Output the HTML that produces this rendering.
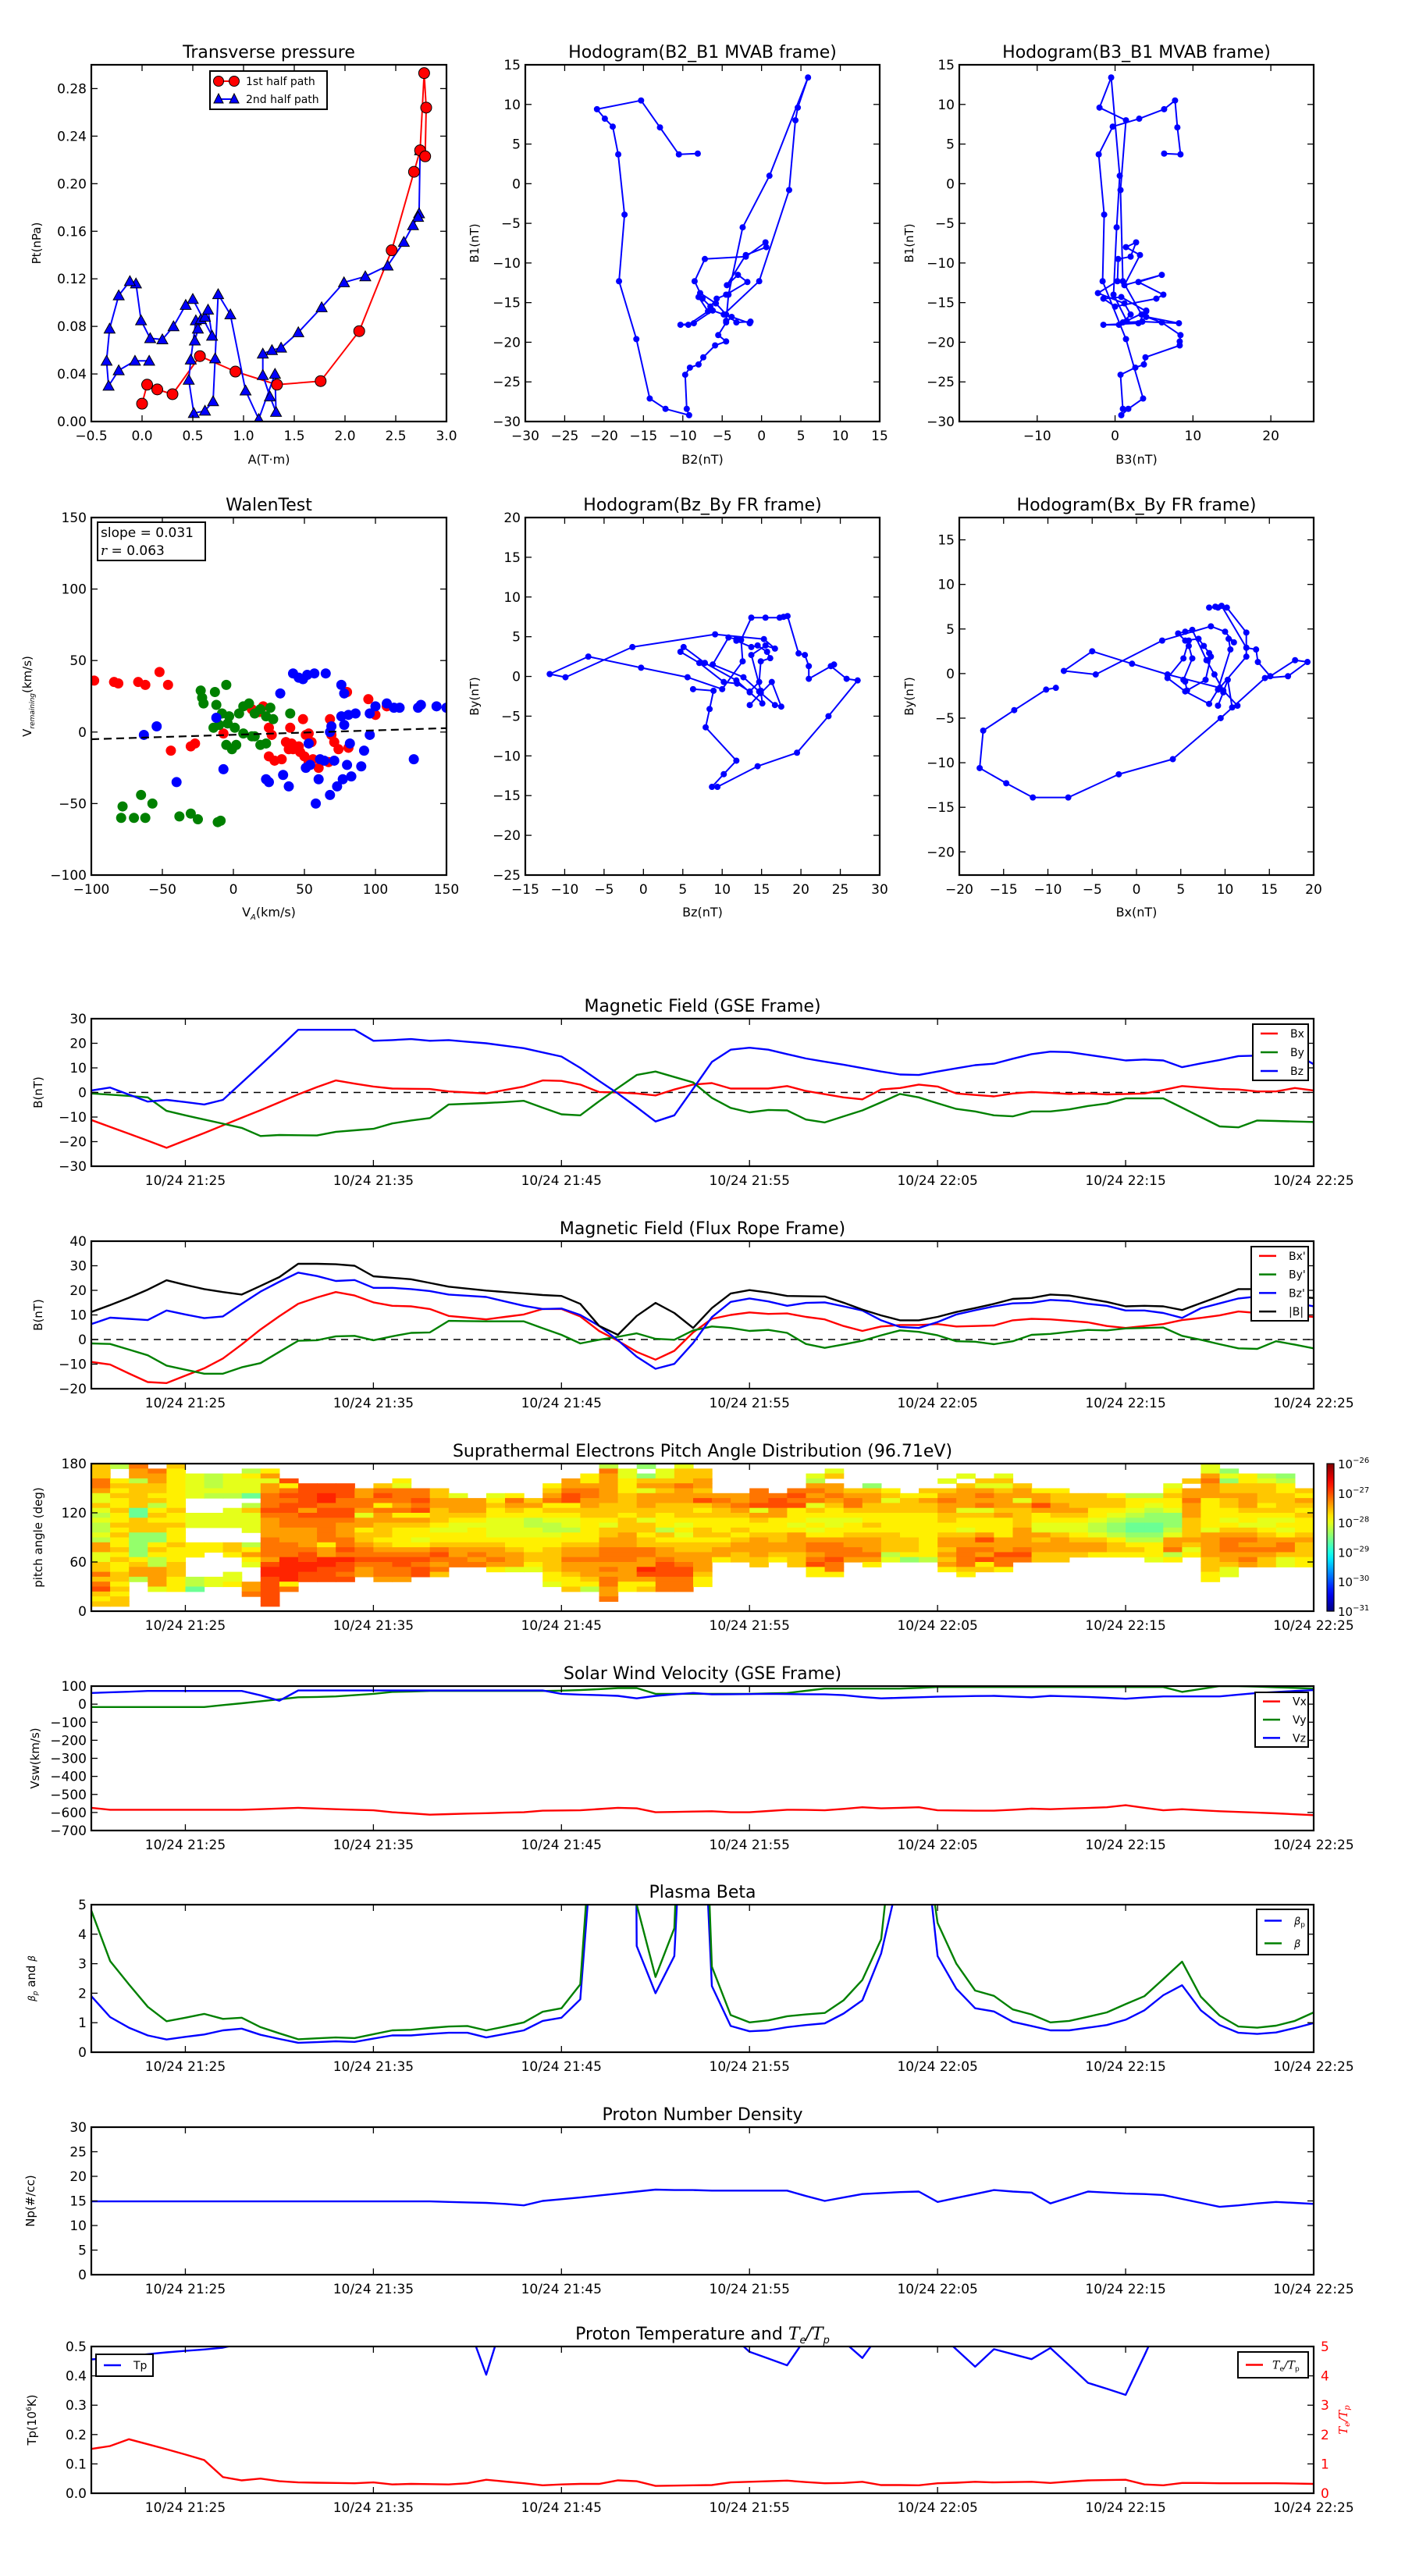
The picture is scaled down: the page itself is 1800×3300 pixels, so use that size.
<!DOCTYPE html>
<html><head><meta charset="utf-8"><title>Flux rope analysis</title>
<style>
html,body{margin:0;padding:0;background:#fff;}
svg{display:block;font-family:"DejaVu Sans","Liberation Sans",sans-serif;}
</style></head>
<body>
<svg id="fig" xmlns="http://www.w3.org/2000/svg" width="1800" height="3300" viewBox="0 0 1800 3300">
<rect x="0" y="0" width="1800" height="3300" fill="#fff"/>
<defs id="defs"></defs>
</svg>
<script>
// ---------------- DATA ----------------
// Transverse pressure
const ptFirstA = [0.0,0.05,0.15,0.30,0.57,0.92,1.33,1.76,2.14,2.46,2.68,2.74,2.78,2.80,2.79];
const ptFirstP = [0.015,0.031,0.027,0.023,0.055,0.042,0.031,0.034,0.076,0.144,0.21,0.228,0.293,0.264,0.223];
const ptSecondA = [2.74,2.73,2.72,2.67,2.58,2.42,2.2,1.99,1.77,1.54,1.37,1.28,1.19,1.19,1.26,1.32,1.31,1.15,1.02,0.87,0.75,0.72,0.70,0.62,0.51,0.46,0.48,0.53,0.55,0.52,0.58,0.62,0.65,0.69,0.50,0.43,0.31,0.20,0.08,-0.01,-0.06,-0.12,-0.23,-0.32,-0.35,-0.33,-0.23,-0.07,0.07];
const ptSecondP = [0.228,0.175,0.172,0.165,0.151,0.131,0.122,0.117,0.096,0.075,0.062,0.060,0.057,0.039,0.021,0.008,0.040,0.002,0.026,0.090,0.107,0.053,0.017,0.009,0.007,0.035,0.052,0.085,0.078,0.068,0.086,0.088,0.094,0.072,0.103,0.098,0.080,0.069,0.070,0.085,0.116,0.118,0.106,0.078,0.051,0.030,0.043,0.051,0.051];
// MVAB hodograms
const mvB1 = [3.8,3.7,7.1,10.5,9.4,8.2,7.2,3.7,-3.9,-12.3,-19.6,-27.1,-28.4,-29.2,-28.4,-24.1,-23.2,-22.8,-21.9,-20.4,-19.9,-19.1,-17.5,-16.8,-17.6,-17.4,-17.5,-16.5,-15.1,-13.8,-12.3,-9.5,-9.2,-7.4,-8.0,-9.0,-12.8,-11.5,-12.4,-14.0,-14.5,-15.5,-14.5,-14.3,-16.1,-17.8,-17.8,-17.6,-16.0,-16.5,-12.3,-0.8,8.0,9.6,13.4,1.0,-5.5,-14.0,-17.3];
const mvB2 = [-8.1,-10.5,-12.9,-15.3,-20.9,-19.9,-18.9,-18.2,-17.4,-18.1,-15.9,-14.2,-12.2,-9.2,-9.5,-9.7,-9.1,-8.0,-7.4,-5.9,-4.5,-5.5,-4.5,-3.8,-1.5,-1.4,-3.2,-4.5,-5.8,-7.8,-8.5,-7.2,-2.0,0.5,0.6,-2.0,-4.4,-3.0,-1.8,-4.5,-5.7,-6.5,-7.5,-8.0,-6.8,-9.3,-10.3,-8.6,-6.2,-4.8,-0.3,3.5,4.3,4.6,5.9,1.0,-2.4,-4.2,-4.5];
const mvB3 = [6.3,8.4,8.0,7.7,6.3,3.1,-0.3,-2.1,-1.4,-1.6,1.4,3.6,1.7,0.8,1.0,0.7,2.6,3.7,3.9,8.3,8.3,8.4,6.0,4.0,8.2,3.5,1.0,2.0,1.2,-2.2,0.3,0.4,2.0,2.7,1.4,3.2,1.2,6.0,3.0,6.2,5.3,0.0,-1.5,0.8,4.0,0.5,-1.5,3.0,4.0,3.4,1.0,0.7,1.4,-2.0,-0.5,0.6,0.2,-0.2,1.5];
// Walen test
const walenRedVA = [-98,-84,-81,-67,-62,-52,-46,-44,-30,-27,-7,13,18,21,25,27,25,29,34,37,40,41,42,46,49,51,53,50,53,56,60,55,47,39,68,69,71,74,80,81,95,100,108,67];
const walenRedV = [36,35,34,35,33,42,33,-13,-10,-8,-1,16,14,18,3,-2,-17,-20,-19,-7,3,-8,-12,-10,9,-2,-1,-17,-21,-19,-25,-7,-14,-12,9,-2,-7,-12,28,-11,23,12,18,-21];
const walenGreenVA = [-23,-22,-21,-13,-12,-5,-10,-8,-3,1,4,7,11,15,19,23,26,28,7,15,19,23,-1,-5,2,40,-78,-79,-70,-65,-62,-57,-38,-30,-25,-11,-9,13,-4,-14];
const walenGreenV = [29,24,20,28,19,33,5,13,11,3,13,18,20,13,16,11,17,9,-1,-3,-9,-8,-12,-9,-9,13,-52,-60,-60,-44,-60,-50,-59,-57,-61,-63,-62,-3,6,3];
const walenBlueVA = [-63,-54,-40,-7,-12,23,25,35,39,42,46,49,52,57,65,33,76,78,53,54,51,60,58,61,64,68,69,68,71,73,77,80,83,90,82,78,76,81,86,92,96,96,100,108,113,117,130,132,143,150,127];
const walenBlueV = [-2,4,-35,-26,10,-33,-35,-30,-38,41,38,37,40,41,41,27,33,27,-8,-23,-25,-33,-50,-19,-20,0,4,-44,-20,-38,-33,-23,-31,-24,-8,5,11,12,13,-13,-2,13,18,20,17,17,17,19,18,17,-19];
const walenSlope = 0.031;
const walenIntercept = -1.9;
const walenR = 0.063;
// Time series (minutes after 10/24 21:20, 1-min cadence)
const minutes = Array.from({length:66},(_,i)=>i);
const gseBx = [-11.2,-14,-16.8,-19.6,-22.5,-19.5,-16.5,-13.4,-10.3,-7.2,-4,-0.8,2.2,4.9,3.6,2.4,1.6,1.5,1.4,0.4,0,-0.4,1,2.4,4.9,4.7,3.2,0.2,0,-0.4,-1.2,1.2,3.2,3.8,1.6,1.6,1.6,2.6,0.6,-0.7,-2,-2.8,1.2,1.8,3.2,2.4,-0.4,-1,-1.6,-0.4,0.2,-0.2,-0.6,-0.4,-0.8,-0.6,-0.4,1,2.6,2,1.4,1.2,0.4,0.4,1.8,0.8];
const gseBy = [-0.4,-0.9,-1.4,-2,-7.5,-9.3,-11,-12.7,-14.4,-17.7,-17.3,-17.4,-17.5,-16,-15.4,-14.8,-12.6,-11.4,-10.4,-4.9,-4.6,-4.3,-3.9,-3.4,-6.2,-8.9,-9.3,-3.6,1.8,7.1,8.5,6.3,4.1,-2.2,-6.3,-8.1,-7.1,-7.3,-11,-12.2,-9.7,-7.3,-4,-0.6,-2,-4.4,-6.7,-7.7,-9.3,-9.7,-7.7,-7.7,-6.9,-5.5,-4.5,-2.4,-2.4,-2.4,-6.2,-10,-13.8,-14.2,-11.4,-11.6,-11.8,-12];
const gseBz = [0.8,2,-0.9,-3.7,-3,-3.9,-4.9,-3,4,11,18.2,25.5,25.5,25.5,25.5,21,21.3,21.7,21,21.3,20.6,20,19,18,16.3,14.6,10,4.7,-0.4,-6,-11.8,-9.3,1.5,12.4,17.4,18.2,17.4,15.6,13.8,12.5,11.3,9.9,8.5,7.3,7.1,8.5,9.8,11.1,11.7,13.7,15.6,16.6,16.4,15.3,14.2,13,13.4,13,10.3,11.8,13.2,14.8,15,16.2,15.8,11.5];
const frBx = [-9.1,-10.2,-13.8,-17.3,-17.7,-14.7,-11.7,-7.7,-2.0,4.1,9.5,14.5,17.1,19.3,17.9,15.1,13.7,13.5,12.4,9.6,8.9,8.2,9.2,10.2,12.4,12.4,9.4,3.5,-0.5,-5.0,-8.2,-4.6,2.9,8.4,10.0,11.0,10.4,10.6,9.2,8.2,5.5,3.5,5.3,5.9,5.9,6.3,5.3,5.5,5.7,7.8,8.4,8.2,7.6,7.0,5.5,4.7,5.5,6.3,7.9,8.8,9.8,11.4,10.8,10.3,9.8,9.2];
const frBy = [-1.6,-1.8,-4.1,-6.4,-10.6,-12.3,-13.9,-13.9,-11.3,-9.6,-5.0,-0.5,-0.3,1.3,1.5,-0.3,1.3,2.7,2.9,7.6,7.5,7.4,7.4,7.4,4.6,1.9,-1.6,-0.1,1.1,2.5,0.3,-0.1,3.7,5.3,4.7,3.5,3.9,2.7,-1.8,-3.4,-2.0,-0.5,1.7,3.7,3.1,1.7,-0.7,-0.9,-1.9,-0.7,1.9,2.3,3.1,3.9,3.7,4.5,4.7,4.9,1.5,-0.1,-1.9,-3.6,-3.8,-0.7,-2.1,-3.6];
const frBz = [6.3,8.9,8.4,7.9,11.8,10.2,8.7,9.4,14.5,19.5,23.5,27.2,25.8,23.8,24.2,21.0,21.0,20.5,19.7,18.3,17.8,17.3,15.5,13.7,12.4,12.6,10.0,5.6,-0.3,-7.0,-11.9,-9.9,-1.4,9.1,15.3,16.7,15.5,13.7,14.9,15.1,13.5,11.8,7.8,5.1,4.7,7.1,10.2,11.9,13.5,14.7,14.9,16.1,15.7,14.5,13.7,11.8,11.8,10.8,8.8,12.7,14.7,16.7,17.5,16.3,14.9,13.5];
const frBt = [11.2,14,17,20.3,24.1,22.2,20.5,19.3,18.3,21.8,25.4,30.8,30.8,30.6,30,25.7,25.1,24.5,23,21.5,20.7,19.9,19.3,18.7,18.1,17.7,14.5,5.6,1.9,9.6,14.9,10.8,4.7,12.8,18.7,20.1,19.1,17.7,17.6,17.5,15,12.2,9.8,7.8,7.8,9.2,11.2,12.8,14.5,16.5,16.9,18.3,17.9,16.6,15.3,13.5,13.7,13.5,12,14.8,17.6,20.5,20.5,17.9,17.4,16.9];
// PAD: one string per minute column, rows from 180 deg down to 0 deg (6 deg bins); digit = level, '.' = no data
const padCols = [
"55577633532322326633557578545.","2..45454454454544545445545455.","766255555005551111145662......",".7665545245455114542266663....",
"54444444454454445444555444....","..33333...333...444....220....","..22232...333...44.....33.....","..33332..3333...554...334.....",
".243330.253333..24643...667...",".4636677787666677776899888888.","...84787887776667779999947....","....88888687766667889988......",
"....88997887777746699888......","....88877887666778798878......",".....667763664556778766.......","....57874766555456787776......",
"...437776746544446788776......",".....778784654434678788.......",".....556655543445787675.......","......366654334456677.........",
".......66654344456767.........","......3454433334566764........","......4765433334456663........",".......564422334445543........",
"....456745432234455555443.....","...66788454332445667665445....","..446776655444445667666542....","2766666655543556677767677667..",
".3344455554555666777666644....","1.156366655355455776698645....",".3356566554442545667888777....","35557666555434345566788777....",
".556656854544554556666544.....","......67655444545664..........","......66765445456655..........",".....7778365445666655.........",
"......78866444556654..........",".....7878444346666555.........","..326767354343467767844.......",".35.6676544334467778774.......",
".....567754344566776..........","....15665544545666764.........",".....453554444555523..........","......45554444455541..........",
".....546554444444442..........","...3.56766554456656564........","..3.5666635443566777754.......","...5367673544468676845........",
"..35356665644446668774........","....5663655556666787..........",".....466864433656655..........",".....455665433566655..........",
"......5556543345665...........","......5554432235664...........","......4554321124554...........","......2443210012454...........",
"......24321100124443..........","....3454431112366724..........","...5.66766655556534...........","336766644444436666655544......",
".1315565544345677766533.......","..4455666544356767676.........","..2355554543345667655.........","..1244555543434677533.........",
".....5465454445655544........."];
const padLevelBase = -28.6;   // log10 flux for level 0
const padLevelStep = 0.2;     // log10 step per level
// Solar wind velocity
const vx = [-574,-585,-585,-585,-585,-585,-585,-585,-585,-582,-578,-574,-578,-582,-585,-588,-599,-605,-612,-609,-606,-604,-601,-599,-590,-589,-588,-581,-574,-577,-599,-597,-595,-593,-599,-599,-592,-585,-586,-588,-580,-571,-577,-574,-571,-588,-589,-590,-590,-585,-579,-582,-578,-575,-571,-560,-574,-588,-582,-588,-593,-597,-601,-605,-610,-615];
const vy = [-16,-16,-16,-16,-16,-16,-16,-5,5,16,27,38,40,43,50,57,68,70,73,73,73,73,73,73,73,75,78,83,89,89,57,57,57,57,57,57,60,62,74,86,86,86,86,86,90,95,95,95,95,95,95,95,95,95,95,95,95,95,68,84,100,100,97,93,90,86];
const vz = [62,66,69,73,73,73,73,73,73,49,19,76,76,76,76,76,76,76,76,76,76,76,76,76,76,57,53,50,46,32,46,54,62,54,55,56,57,56,55,54,50,40,32,35,38,41,43,45,46,42,38,46,43,40,35,30,37,43,43,43,43,53,62,67,73,78];
// Plasma beta
const betaP = [1.9,1.19,.83,.57,.43,.52,.6,.74,.8,.59,.45,.32,.34,.37,.35,.46,.57,.57,.62,.66,.66,.5,.62,.74,1.06,1.17,1.79,10,100,3.6,2.0,3.26,16,2.24,.89,.71,.74,.85,.92,.98,1.31,1.76,3.35,6.1,9.1,3.26,2.15,1.49,1.38,1.03,.89,.74,.74,.83,.92,1.1,1.42,1.93,2.27,1.42,.92,.66,.62,.67,.82,.99];
const betaT = [4.8,3.09,2.3,1.54,1.05,1.17,1.3,1.13,1.17,.85,.64,.44,.47,.5,.48,.61,.74,.76,.82,.87,.89,.74,.87,1.01,1.37,1.49,2.3,11.3,100,5.0,2.55,4.2,20,2.9,1.26,1.01,1.08,1.22,1.28,1.33,1.76,2.45,3.83,9.7,8.8,4.38,3.0,2.09,1.91,1.45,1.28,1.01,1.06,1.2,1.35,1.63,1.9,2.48,3.07,1.88,1.24,.87,.83,.9,1.06,1.35];
// Proton density
const np = [14.9,14.9,14.9,14.9,14.9,14.9,14.9,14.9,14.9,14.9,14.9,14.9,14.9,14.9,14.9,14.9,14.9,14.9,14.9,14.8,14.7,14.6,14.4,14.1,15.0,15.35,15.7,16.1,16.5,16.9,17.3,17.2,17.2,17.1,17.1,17.1,17.1,17.1,16,15.0,15.7,16.4,16.6,16.8,16.9,14.8,15.6,16.4,17.2,16.9,16.7,14.5,15.7,16.9,16.7,16.5,16.4,16.2,15.4,14.6,13.8,14.1,14.5,14.8,14.6,14.4];
// Proton temperature (1e6 K) and Te/Tp
const tp = [.456,.46,.467,.474,.48,.485,.49,.496,.51,.55,.58,.6,.6,.6,.6,.6,.6,.6,.6,.6,.58,.404,.61,.62,.62,.62,.62,.62,.62,.62,.62,.62,.62,.62,.54,.482,.459,.436,.53,.6,.517,.461,.55,.6,.6,.55,.49,.431,.491,.474,.457,.495,.436,.376,.356,.335,.47,.61,.62,.62,.62,.62,.62,.62,.62,.62];
const teTp = [1.51,1.61,1.84,1.67,1.5,1.32,1.13,.55,.44,.5,.41,.37,.36,.35,.34,.37,.3,.32,.31,.3,.34,.46,.4,.34,.27,.3,.32,.32,.44,.41,.25,.26,.27,.28,.37,.39,.41,.43,.38,.34,.35,.39,.28,.28,.27,.34,.36,.39,.37,.38,.39,.35,.4,.44,.45,.46,.3,.27,.35,.35,.34,.34,.34,.34,.33,.32];
const timeTicks = [5,15,25,35,45,55,65];
const timeTickLabels = ["10/24 21:25","10/24 21:35","10/24 21:45","10/24 21:55","10/24 22:05","10/24 22:15","10/24 22:25"];

// ---------------- DRAWING ----------------
const NS = 'http://www.w3.org/2000/svg';
const svg = document.getElementById('fig');
const defs = document.getElementById('defs');
function mk(tag, parent){ const e = document.createElementNS(NS, tag); parent.appendChild(e); return e; }
function at(e, o){ for (const k in o) e.setAttribute(k, o[k]); return e; }
function lin(d0, d1, r0, r1){ return v => r0 + (v - d0) * (r1 - r0) / (d1 - d0); }
function fmt(v, dec){ const s = v.toFixed(dec); return v < 0 ? '\u2212' + s.slice(1) : s; }
let clipN = 0;

function panel(name, title, x0, y0, x1, y1, xd, yd){
  const g = mk('g', svg);
  
  
  const sx = lin(xd[0], xd[1], x0, x1);
  const sy = lin(yd[0], yd[1], y1, y0);
  const cid = 'clip' + (clipN++);
  const cp = at(mk('clipPath', defs), {id: cid});
  at(mk('rect', cp), {x: x0, y: y0, width: x1 - x0, height: y1 - y0});
  const data = at(mk('g', g), {'clip-path': 'url(#' + cid + ')'});
  
  
  const t = at(mk('text', g), {x: (x0 + x1) / 2, y: y0 - 9, 'text-anchor': 'middle', 'font-size': 22});
  t.textContent = title;
  
  
  return {g, data, sx, sy, x0, y0, x1, y1, name};
}
function frame(p){
  const r = at(mk('rect', p.g), {x: p.x0, y: p.y0, width: p.x1 - p.x0, height: p.y1 - p.y0, fill: 'none', stroke: '#000', 'stroke-width': 2.2});
  
  
}
function xTicks(p, vals, labels, opts){
  opts = opts || {};
  const g = mk('g', p.g);
  
  
  vals.forEach((v, i) => {
    const x = p.sx(v);
    at(mk('line', g), {x1: x, x2: x, y1: p.y1, y2: p.y1 - 8, stroke: '#000', 'stroke-width': 1.3});
    at(mk('line', g), {x1: x, x2: x, y1: p.y0, y2: p.y0 + 8, stroke: '#000', 'stroke-width': 1.3});
    if (labels && labels[i] !== '') {
      const t = at(mk('text', g), {x: x, y: p.y1 + 24, 'text-anchor': 'middle', 'font-size': opts.fs || 17});
      t.textContent = labels[i];
    }
  });
}
function yTicks(p, vals, labels, opts){
  opts = opts || {};
  const g = mk('g', p.g);
  
  
  vals.forEach((v, i) => {
    const y = p.sy(v);
    at(mk('line', g), {x1: p.x0, x2: p.x0 + 8, y1: y, y2: y, stroke: '#000', 'stroke-width': 1.3});
    if (!opts.noRight) at(mk('line', g), {x1: p.x1, x2: p.x1 - 8, y1: y, y2: y, stroke: '#000', 'stroke-width': 1.3});
    const t = at(mk('text', g), {x: p.x0 - 6, y: y + 6, 'text-anchor': 'end', 'font-size': opts.fs || 17});
    t.textContent = labels[i];
  });
}
function yLabel(p, x, txt, fs){
  const cy = (p.y0 + p.y1) / 2;
  const t = at(mk('text', p.g), {x: x, y: cy, 'text-anchor': 'middle', 'font-size': fs || 15, transform: 'rotate(-90 ' + x + ' ' + cy + ')'});
  t.textContent = txt;
  
  
  return t;
}
function xLabel(p, y, txt){
  const t = at(mk('text', p.g), {x: (p.x0 + p.x1) / 2, y: y, 'text-anchor': 'middle', 'font-size': 16});
  t.textContent = txt;
  
  
  return t;
}
function line(p, xs, ys, color, name, w){
  const d = xs.map((x, i) => (i ? 'L' : 'M') + p.sx(x).toFixed(1) + ' ' + p.sy(ys[i]).toFixed(1)).join('');
  const e = at(mk('path', p.data), {d: d, fill: 'none', stroke: color, 'stroke-width': w || 2.4, 'stroke-linejoin': 'round'});
  
  
  return e;
}
function dots(p, xs, ys, color, r, name, edge){
  const g = mk('g', p.data);
  
  
  xs.forEach((x, i) => {
    const c = at(mk('circle', g), {cx: p.sx(x), cy: p.sy(ys[i]), r: r, fill: color});
    if (edge) at(c, {stroke: '#000', 'stroke-width': 1});
  });
}
function tris(p, xs, ys, color, s, name){
  const g = mk('g', p.data);
  
  
  xs.forEach((x, i) => {
    const cx = p.sx(x), cy = p.sy(ys[i]);
    at(mk('polygon', g), {points: `${cx},${cy - s} ${cx - s},${cy + s * 0.8} ${cx + s},${cy + s * 0.8}`, fill: color, stroke: '#000', 'stroke-width': 1});
  });
}
function zeroDash(p){
  const e = at(mk('line', p.data), {x1: p.x0, x2: p.x1, y1: p.sy(0), y2: p.sy(0), stroke: '#000', 'stroke-width': 1.5, 'stroke-dasharray': '9 7'});
  
  
}
function legend(p, x, y, w, h, items, fs){
  const g = mk('g', p.g);
  
  
  at(mk('rect', g), {x: x, y: y, width: w, height: h, fill: '#fff', stroke: '#000', 'stroke-width': 2});
  const step = h / items.length;
  items.forEach((it, i) => {
    const cy = y + step * (i + 0.5);
    at(mk('line', g), {x1: x + 10, x2: x + 32, y1: cy, y2: cy, stroke: it[1], 'stroke-width': 2.5});
    const t = at(mk('text', g), {x: it[2] || (x + 48), y: cy + 5, 'font-size': fs || 14, fill: it[3] || '#000'});
    t.innerHTML = it[0];
    
    
  });
}
function seq(a, b, s){ const r = []; for (let v = a; v <= b + 1e-9; v += s) r.push(+v.toFixed(6)); return r; }

// ---- Transverse pressure ----
(function(){
  const p = panel('transverse-pressure', 'Transverse pressure', 117, 83, 572, 540, [-0.5, 3.0], [0, 0.30]);
  line(p, ptFirstA, ptFirstP, '#f00', 'first-half-line', 2);
  line(p, ptSecondA, ptSecondP, '#00f', 'second-half-line', 2);
  tris(p, ptSecondA, ptSecondP, '#00f', 7, 'second-half-markers');
  dots(p, ptFirstA, ptFirstP, '#f00', 7, 'first-half-markers', true);
  frame(p);
  const xv = seq(-0.5, 3.0, 0.5);
  xTicks(p, xv, xv.map(v => fmt(v, 1)));
  const yv = seq(0, 0.28, 0.04);
  yTicks(p, yv, yv.map(v => fmt(v, 2)));
  yLabel(p, 52, 'Pt(nPa)');
  xLabel(p, 594, 'A(T\u00b7m)');
  const g = mk('g', p.g);
  
  
  at(mk('rect', g), {x: 269, y: 91, width: 150, height: 49, fill: '#fff', stroke: '#000', 'stroke-width': 2});
  at(mk('line', g), {x1: 280, x2: 300, y1: 104, y2: 104, stroke: '#f00', 'stroke-width': 2});
  at(mk('circle', g), {cx: 280, cy: 104, r: 6.5, fill: '#f00', stroke: '#000'});
  at(mk('circle', g), {cx: 300, cy: 104, r: 6.5, fill: '#f00', stroke: '#000'});
  at(mk('line', g), {x1: 280, x2: 300, y1: 127, y2: 127, stroke: '#00f', 'stroke-width': 2});
  at(mk('polygon', g), {points: '280,120 274,132 286,132', fill: '#00f', stroke: '#000'});
  at(mk('polygon', g), {points: '300,120 294,132 306,132', fill: '#00f', stroke: '#000'});
  const t1 = at(mk('text', g), {x: 315, y: 109, 'font-size': 14}); t1.textContent = '1st half path';
  const t2 = at(mk('text', g), {x: 315, y: 132, 'font-size': 14}); t2.textContent = '2nd half path';
})();

// ---- MVAB hodograms ----
(function(){
  const p = panel('hodogram-b2-b1', 'Hodogram(B2_B1 MVAB frame)', 673, 83, 1127, 540, [-30, 15], [-30, 15]);
  line(p, mvB2, mvB1, '#00f', 'b2-b1-path', 2);
  dots(p, mvB2, mvB1, '#00f', 4, 'b2-b1-points');
  frame(p);
  const xv = seq(-30, 15, 5);
  xTicks(p, xv, xv.map(v => fmt(v, 0)));
  const yv = seq(-30, 15, 5);
  yTicks(p, yv, yv.map(v => fmt(v, 0)));
  yLabel(p, 613, 'B1(nT)');
  xLabel(p, 594, 'B2(nT)');
})();
(function(){
  const p = panel('hodogram-b3-b1', 'Hodogram(B3_B1 MVAB frame)', 1229, 83, 1683, 540, [-20, 25.5], [-30, 15]);
  line(p, mvB3, mvB1, '#00f', 'b3-b1-path', 2);
  dots(p, mvB3, mvB1, '#00f', 4, 'b3-b1-points');
  frame(p);
  const xv = [-10, 0, 10, 20];
  xTicks(p, xv, xv.map(v => fmt(v, 0)));
  const yv = seq(-30, 15, 5);
  yTicks(p, yv, yv.map(v => fmt(v, 0)));
  yLabel(p, 1170, 'B1(nT)');
  xLabel(p, 594, 'B3(nT)');
})();

// ---- Walen test ----
(function(){
  const p = panel('walen-test', 'WalenTest', 117, 663, 572, 1121, [-100, 150], [-100, 150]);
  dots(p, walenRedVA, walenRedV, '#f00', 6.5, 'walen-red-points');
  dots(p, walenGreenVA, walenGreenV, '#008000', 6.5, 'walen-green-points');
  dots(p, walenBlueVA, walenBlueV, '#00f', 6.5, 'walen-blue-points');
  const fx = [-100, 150];
  const fy = fx.map(v => walenSlope * v + walenIntercept);
  const fl = line(p, fx, fy, '#000', 'walen-fit-line', 2.2);
  fl.setAttribute('stroke-dasharray', '10 6');
  frame(p);
  const xv = seq(-100, 150, 50);
  xTicks(p, xv, xv.map(v => fmt(v, 0)));
  const yv = seq(-100, 150, 50);
  yTicks(p, yv, yv.map(v => fmt(v, 0)));
  const yl = yLabel(p, 40, '');
  yl.innerHTML = 'V<tspan font-size="9" font-style="italic" dy="4">remaining</tspan><tspan dy="-4">(km/s)</tspan>';
  const xl = xLabel(p, 1174, '');
  xl.innerHTML = 'V<tspan font-size="10" font-style="italic" dy="4">A</tspan><tspan dy="-4">(km/s)</tspan>';
  const g = mk('g', p.g);
  
  
  at(mk('rect', g), {x: 125, y: 669, width: 138, height: 49, fill: '#fff', stroke: '#000', 'stroke-width': 2});
  const t1 = at(mk('text', g), {x: 129, y: 688, 'font-size': 17}); t1.textContent = 'slope = ' + walenSlope.toFixed(3);
  const t2 = at(mk('text', g), {x: 129, y: 711, 'font-size': 17}); t2.innerHTML = '<tspan font-style="italic" font-family="DejaVu Serif">r</tspan> = ' + walenR.toFixed(3);
})();

// ---- FR hodograms ----
(function(){
  const p = panel('hodogram-bz-by', 'Hodogram(Bz_By FR frame)', 673, 663, 1127, 1121, [-15, 30], [-25, 20]);
  line(p, frBz, frBy, '#00f', 'bz-by-path', 2);
  dots(p, frBz, frBy, '#00f', 4, 'bz-by-points');
  frame(p);
  const xv = seq(-15, 30, 5);
  xTicks(p, xv, xv.map(v => fmt(v, 0)));
  const yv = seq(-25, 20, 5);
  yTicks(p, yv, yv.map(v => fmt(v, 0)));
  yLabel(p, 613, 'By(nT)');
  xLabel(p, 1174, 'Bz(nT)');
})();
(function(){
  const p = panel('hodogram-bx-by', 'Hodogram(Bx_By FR frame)', 1229, 663, 1683, 1121, [-20, 20], [-22.6, 17.5]);
  line(p, frBx, frBy, '#00f', 'bx-by-path', 2);
  dots(p, frBx, frBy, '#00f', 4, 'bx-by-points');
  frame(p);
  const xv = seq(-20, 20, 5);
  xTicks(p, xv, xv.map(v => fmt(v, 0)));
  const yv = seq(-20, 15, 5);
  yTicks(p, yv, yv.map(v => fmt(v, 0)));
  yLabel(p, 1170, 'By(nT)');
  xLabel(p, 1174, 'Bx(nT)');
})();

// ---- Time series panels ----
const TX0 = 117, TX1 = 1683;
function timeAxis(p){ xTicks(p, timeTicks, timeTickLabels); }

(function(){
  const p = panel('magnetic-field-gse', 'Magnetic Field (GSE Frame)', TX0, 1305, TX1, 1494, [0, 65], [-30, 30]);
  zeroDash(p);
  line(p, minutes, gseBx, '#f00', 'gse-bx-line');
  line(p, minutes, gseBy, '#008000', 'gse-by-line');
  line(p, minutes, gseBz, '#00f', 'gse-bz-line');
  frame(p);
  timeAxis(p);
  const yv = seq(-30, 30, 10);
  yTicks(p, yv, yv.map(v => fmt(v, 0)));
  yLabel(p, 54, 'B(nT)');
  legend(p, 1605, 1312, 71, 72, [['Bx', '#f00'], ['By', '#008000'], ['Bz', '#00f']]);
})();
(function(){
  const p = panel('magnetic-field-flux-rope', 'Magnetic Field (Flux Rope Frame)', TX0, 1590, TX1, 1779, [0, 65], [-20, 40]);
  zeroDash(p);
  line(p, minutes, frBx, '#f00', 'fr-bx-line');
  line(p, minutes, frBy, '#008000', 'fr-by-line');
  line(p, minutes, frBz, '#00f', 'fr-bz-line');
  line(p, minutes, frBt, '#000', 'fr-bt-line');
  frame(p);
  timeAxis(p);
  const yv = seq(-20, 40, 10);
  yTicks(p, yv, yv.map(v => fmt(v, 0)));
  yLabel(p, 54, 'B(nT)');
  legend(p, 1603, 1597, 73, 95, [["Bx'", '#f00'], ["By'", '#008000'], ["Bz'", '#00f'], ['|B|', '#000']]);
})();
function jet(n){
  const c = v => Math.max(0, Math.min(1, v));
  const r = c(1.5 - Math.abs(4 * n - 3)), g = c(1.5 - Math.abs(4 * n - 2)), b = c(1.5 - Math.abs(4 * n - 1));
  return 'rgb(' + Math.round(r * 255) + ',' + Math.round(g * 255) + ',' + Math.round(b * 255) + ')';
}
(function(){
  const p = panel('pitch-angle-distribution', 'Suprathermal Electrons Pitch Angle Distribution (96.71eV)', TX0, 1875, TX1, 2064, [0, 65], [0, 180]);
  const g = mk('g', p.data);
  
  
  padCols.forEach((col, c) => {
    for (let r = 0; r < col.length; r++) {
      const ch = col[r];
      if (ch === '.') continue;
      const lg = padLevelBase + padLevelStep * (+ch);
      const x = p.sx(c), w = p.sx(c + 1) - x;
      const yTop = p.sy(180 - 6 * r), h = p.sy(180 - 6 * (r + 1)) - yTop;
      const cell = at(mk('rect', g), {x: x.toFixed(1), y: yTop.toFixed(1), width: (w + 0.6).toFixed(1), height: (h + 0.6).toFixed(1), fill: jet((lg + 31) / 5)});
      
      
    }
  });
  frame(p);
  timeAxis(p);
  yTicks(p, [0, 60, 120, 180], ['0', '60', '120', '180']);
  yLabel(p, 54, 'pitch angle (deg)');
  // colorbar
  const cb = mk('g', svg);
  
  
  const gid = 'jetgrad';
  const lg = at(mk('linearGradient', defs), {id: gid, x1: 0, y1: 1, x2: 0, y2: 0});
  for (let i = 0; i <= 20; i++) at(mk('stop', lg), {offset: (i / 20), 'stop-color': jet(i / 20)});
  at(mk('rect', cb), {x: 1700, y: 1875, width: 9, height: 189, fill: 'url(#' + gid + ')', stroke: '#000', 'stroke-width': 1.2});
  const exps = [-26, -27, -28, -29, -30, -31];
  exps.forEach((e, i) => {
    const y = 1875 + i * 189 / 5;
    const t = at(mk('text', cb), {x: 1714, y: y + 6, 'font-size': 15});
    t.innerHTML = '10<tspan font-size="10" dy="-7">' + fmt(e, 0) + '</tspan>';
  });
})();
(function(){
  const p = panel('solar-wind-velocity', 'Solar Wind Velocity (GSE Frame)', TX0, 2160, TX1, 2345, [0, 65], [-700, 100]);
  line(p, minutes, vx, '#f00', 'vx-line');
  line(p, minutes, vy, '#008000', 'vy-line');
  line(p, minutes, vz, '#00f', 'vz-line');
  frame(p);
  timeAxis(p);
  const yv = seq(-700, 100, 100);
  yTicks(p, yv, yv.map(v => fmt(v, 0)));
  yLabel(p, 50, 'Vsw(km/s)');
  legend(p, 1608, 2168, 68, 70, [['Vx', '#f00'], ['Vy', '#008000'], ['Vz', '#00f']]);
})();
(function(){
  const p = panel('plasma-beta', 'Plasma Beta', TX0, 2440, TX1, 2629, [0, 65], [0, 5]);
  line(p, minutes, betaP, '#00f', 'beta-p-line');
  line(p, minutes, betaT, '#008000', 'beta-line');
  frame(p);
  timeAxis(p);
  yTicks(p, [0, 1, 2, 3, 4, 5], ['0', '1', '2', '3', '4', '5']);
  const yl = yLabel(p, 45, '');
  yl.innerHTML = '<tspan font-style="italic" font-size="12">\u03b2</tspan><tspan font-size="9" font-style="italic" dy="3">p</tspan><tspan dy="-3"> and </tspan><tspan font-style="italic" font-size="12">\u03b2</tspan>';
  legend(p, 1610, 2446, 66, 58, [['<tspan font-style="italic">\u03b2</tspan><tspan font-size="9" dy="3">p</tspan>', '#00f'], ['<tspan font-style="italic">\u03b2</tspan>', '#008000']], 13);
})();
(function(){
  const p = panel('proton-number-density', 'Proton Number Density', TX0, 2725, TX1, 2914, [0, 65], [0, 30]);
  line(p, minutes, np, '#00f', 'np-line');
  frame(p);
  timeAxis(p);
  const yv = seq(0, 30, 5);
  yTicks(p, yv, yv.map(v => fmt(v, 0)));
  yLabel(p, 44, 'Np(#/cc)');
})();
(function(){
  const p = panel('proton-temperature', '', TX0, 3006, TX1, 3194, [0, 65], [0, 0.5]);
  const tt = p.g.querySelector('text');
  tt.innerHTML = 'Proton Temperature and <tspan font-style="italic" font-family="DejaVu Serif">T</tspan><tspan font-size="13" font-style="italic" dy="5">e</tspan><tspan dy="-5" font-style="italic" font-family="DejaVu Serif">/T</tspan><tspan font-size="13" font-style="italic" dy="5">p</tspan>';
  const sy2 = lin(0, 5, 3194, 3006);
  line(p, minutes, tp, '#00f', 'tp-line');
  const d = minutes.map((m, i) => (i ? 'L' : 'M') + p.sx(m).toFixed(1) + ' ' + sy2(teTp[i]).toFixed(1)).join('');
  const rl = at(mk('path', p.data), {d: d, fill: 'none', stroke: '#f00', 'stroke-width': 2.4});
  
  
  frame(p);
  timeAxis(p);
  const yv = seq(0, 0.5, 0.1);
  yTicks(p, yv, yv.map(v => fmt(v, 1)), {noRight: true});
  const rg = mk('g', p.g);
  
  
  [0, 1, 2, 3, 4, 5].forEach(v => {
    const y = sy2(v);
    at(mk('line', rg), {x1: TX1, x2: TX1 - 8, y1: y, y2: y, stroke: '#000', 'stroke-width': 1.3});
    const t = at(mk('text', rg), {x: 1692, y: y + 6, 'font-size': 17, fill: '#f00'}); t.textContent = String(v);
  });
  const rx = 1726, ry = 3100;
  const rt = at(mk('text', rg), {x: rx, y: ry, 'text-anchor': 'middle', 'font-size': 15, fill: '#f00', 'font-style': 'italic', 'font-family': 'DejaVu Serif', transform: 'rotate(-90 ' + rx + ' ' + ry + ')'});
  rt.innerHTML = 'T<tspan font-size="10" dy="3">e</tspan><tspan dy="-3">/T</tspan><tspan font-size="10" dy="3">p</tspan>';
  const yl = yLabel(p, 46, '');
  yl.innerHTML = 'Tp(10<tspan font-size="9" dy="-6">6</tspan><tspan dy="6">K)</tspan>';
  legend(p, 123, 3016, 73, 28, [['Tp', '#00f']]);
  legend(p, 1586, 3013, 90, 33, [['<tspan font-style="italic" font-family="DejaVu Serif">T</tspan><tspan font-size="9" dy="3">e</tspan><tspan dy="-3" font-style="italic" font-family="DejaVu Serif">/T</tspan><tspan font-size="9" dy="3">p</tspan>', '#f00', 1630]]);
})();
</script>
</body></html>
